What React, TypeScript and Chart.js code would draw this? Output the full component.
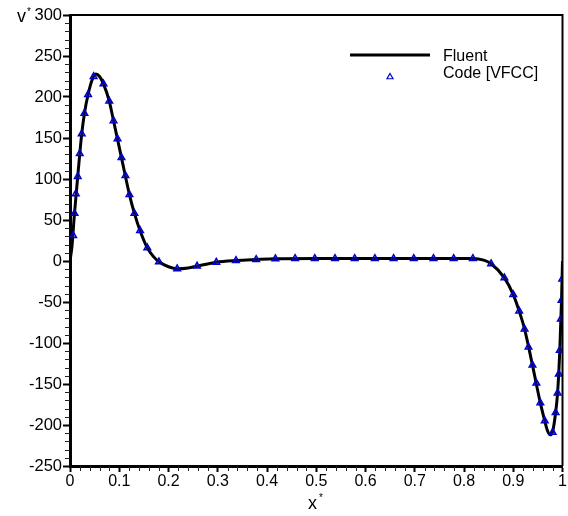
import { useEffect, useRef } from 'react';
import { Chart, registerables } from 'chart.js';

Chart.register(...registerables);

const FONT = "'Liberation Sans', Arial, Helvetica, sans-serif";

const xTickValues = [0, 0.1, 0.2, 0.3, 0.4, 0.5, 0.6, 0.7, 0.8, 0.9, 1];
const xTickLabels = ['0', '0.1', '0.2', '0.3', '0.4', '0.5', '0.6', '0.7', '0.8', '0.9', '1'];
const yTickValues = [-250, -200, -150, -100, -50, 0, 50, 100, 150, 200, 250, 300];
const yTickLabels = ['-250', '-200', '-150', '-100', '-50', '0', '50', '100', '150', '200', '250', '300'];

const seriesNames = ['Fluent', 'Code [VFCC]'];
const axisTitleX = 'x';
const axisTitleY = 'v';

// Fluent reference curve
const fluentX = [
  0, 0.004, 0.0091, 0.0157, 0.0238, 0.0293, 0.0367, 0.045, 0.0525, 0.06, 0.068, 0.0797, 0.0884,
  0.1045, 0.1207, 0.1308, 0.1423, 0.157, 0.17, 0.1806, 0.2, 0.2176, 0.24, 0.258, 0.297, 0.337,
  0.378, 0.417, 0.5, 0.6, 0.7, 0.779, 0.818, 0.84, 0.855, 0.882, 0.9, 0.912, 0.923, 0.939, 0.955,
  0.964, 0.969, 0.975, 0.98, 0.986, 0.99, 0.9945, 0.998, 1,
];
const fluentY = [
  0, 18, 58, 103, 155, 180, 203, 221, 228, 225, 216, 195, 171,
  126, 81, 58, 37, 16, 5, -1, -7, -9.5, -8.5, -6.3, -1.5, 0.6,
  1.8, 2.7, 3, 3, 3, 3, 3, 1, -3.4, -20.5, -41, -61, -83, -127, -173,
  -195, -206, -212, -208, -185, -161, -109, -48, 0,
];

// Code [VFCC] markers
const codeX = [
  0.0065, 0.0091, 0.0117, 0.0157, 0.0198, 0.0238, 0.0293, 0.0367, 0.048, 0.068, 0.0797, 0.0884,
  0.0965, 0.1045, 0.1126, 0.1207, 0.1308, 0.1423, 0.157, 0.1806, 0.2176, 0.258, 0.297, 0.337,
  0.378, 0.417, 0.457, 0.497, 0.538, 0.578, 0.619, 0.657, 0.698, 0.738, 0.779, 0.818, 0.855,
  0.882, 0.9, 0.912, 0.923, 0.931, 0.939, 0.947, 0.955, 0.964, 0.98, 0.986, 0.99, 0.9925,
  0.9945, 0.9966, 0.998, 0.9994,
];
const codeY = [
  31, 58, 82, 103, 131, 155, 180, 203, 225, 216, 195, 171,
  149, 126, 104, 81, 58, 37, 16, -1, -9.5, -6.3, -1.5, 0.6,
  1.8, 2.7, 3, 3, 3, 3, 3, 3, 3, 3, 3, 3, -3.4,
  -20.5, -41, -61, -83, -105, -127, -149, -173, -195, -209, -185, -161, -138,
  -109, -71, -48, -22,
];

const MARKER_COLOR = 'rgb(0,0,200)';

const decorPlugin = {
  id: 'decor',
  afterDraw(chart: any) {
    const { ctx, chartArea: a, scales } = chart;
    const xs = scales.x;
    const ys = scales.y;
    ctx.save();
    ctx.strokeStyle = '#000';
    // top and right frame
    ctx.lineWidth = 2;
    ctx.beginPath();
    ctx.moveTo(a.left, a.top);
    ctx.lineTo(a.right, a.top);
    ctx.lineTo(a.right, a.bottom);
    ctx.stroke();
    // minor ticks
    ctx.lineWidth = 1;
    ctx.strokeStyle = '#222';
    ctx.beginPath();
    for (let i = 0; i < yTickValues.length - 1; i++) {
      const step = (yTickValues[i + 1] - yTickValues[i]) / 5;
      for (let k = 1; k < 5; k++) {
        const p = Math.round(ys.getPixelForValue(yTickValues[i] + k * step)) + 0.5;
        ctx.moveTo(a.left - 5, p);
        ctx.lineTo(a.left, p);
      }
    }
    for (let i = 0; i < xTickValues.length - 1; i++) {
      const step = (xTickValues[i + 1] - xTickValues[i]) / 5;
      for (let k = 1; k < 5; k++) {
        const p = Math.round(xs.getPixelForValue(xTickValues[i] + k * step)) + 0.5;
        ctx.moveTo(p, a.bottom);
        ctx.lineTo(p, a.bottom + 5);
      }
    }
    ctx.stroke();

    // legend
    ctx.fillStyle = '#000';
    ctx.font = `16px ${FONT}`;
    ctx.textBaseline = 'alphabetic';
    ctx.textAlign = 'left';
    ctx.strokeStyle = '#000';
    ctx.lineWidth = 3;
    ctx.beginPath();
    ctx.moveTo(350, 55);
    ctx.lineTo(430, 55);
    ctx.stroke();
    ctx.fillText(seriesNames[0], 443, 61);
    ctx.strokeStyle = MARKER_COLOR;
    ctx.lineWidth = 1.2;
    const r = 3.5;
    const cx = 390, cy = 77;
    ctx.beginPath();
    ctx.moveTo(cx, cy - r);
    ctx.lineTo(cx + r * 0.866, cy + r * 0.5);
    ctx.lineTo(cx - r * 0.866, cy + r * 0.5);
    ctx.closePath();
    ctx.stroke();
    ctx.fillText(seriesNames[1], 443, 78);

    // axis titles
    ctx.font = `18px ${FONT}`;
    ctx.fillText(axisTitleY, 17, 22);
    ctx.fillText(axisTitleX, 308, 509);
    ctx.font = `10px ${FONT}`;
    ctx.fillText('*', 27, 15);
    ctx.fillText('*', 319, 501);
    ctx.restore();
  },
};

export default function App() {
  const ref = useRef<HTMLCanvasElement | null>(null);
  useEffect(() => {
    if (!ref.current) return;
    const chart = new Chart(ref.current, {
      type: 'line',
      data: {
        datasets: [
          {
            label: seriesNames[1],
            data: codeX.map((x, i) => ({ x, y: codeY[i] })),
            showLine: false,
            pointStyle: 'triangle',
            pointRadius: 3.8,
            pointBorderWidth: 1.5,
            pointBorderColor: MARKER_COLOR,
            pointBackgroundColor: 'rgba(60,60,220,0.25)',
            order: 0,
          },
          {
            label: seriesNames[0],
            data: fluentX.map((x, i) => ({ x, y: fluentY[i] })),
            borderColor: '#000',
            borderWidth: 3,
            pointRadius: 0,
            cubicInterpolationMode: 'monotone',
            fill: false,
            order: 1,
          },
        ],
      },
      options: {
        responsive: false,
        animation: false,
        layout: { padding: { left: 0, right: 3, top: 15, bottom: 0 } },
        plugins: { legend: { display: false }, tooltip: { enabled: false } },
        scales: {
          x: {
            type: 'linear',
            min: 0,
            max: 1,
            afterBuildTicks: (s: any) => {
              s.ticks = xTickValues.map((v) => ({ value: v }));
            },
            afterFit: (s: any) => {
              s.height = 50;
              s.paddingLeft = 0;
              s.paddingRight = 0;
            },
            ticks: {
              callback: (_v: any, i: number) => xTickLabels[i],
              font: { family: FONT, size: 16 },
              color: '#000',
              padding: 0,
              maxRotation: 0,
              autoSkip: false,
            },
            grid: { drawOnChartArea: false, drawTicks: true, tickLength: 6, tickWidth: 2, tickColor: '#000' },
            border: { display: true, color: '#000', width: 3 },
          },
          y: {
            type: 'linear',
            min: -250,
            max: 300,
            afterBuildTicks: (s: any) => {
              s.ticks = yTickValues.map((v) => ({ value: v }));
            },
            afterFit: (s: any) => {
              s.width = 70;
              s.paddingTop = 0;
              s.paddingBottom = 0;
            },
            ticks: {
              callback: (_v: any, i: number) => yTickLabels[i],
              font: { family: FONT, size: 16.5 },
              color: '#000',
              padding: 1,
              autoSkip: false,
            },
            grid: { drawOnChartArea: false, drawTicks: true, tickLength: 7, tickWidth: 2, tickColor: '#000' },
            border: { display: true, color: '#000', width: 3 },
          },
        },
      },
      plugins: [decorPlugin],
    });
    return () => chart.destroy();
  }, []);
  return (
    <div style={{ position: 'absolute', left: 0, top: 0, width: 568, height: 516, background: '#fff' }}>
      <canvas ref={ref} width={568} height={516} style={{ display: 'block' }} />
    </div>
  );
}
